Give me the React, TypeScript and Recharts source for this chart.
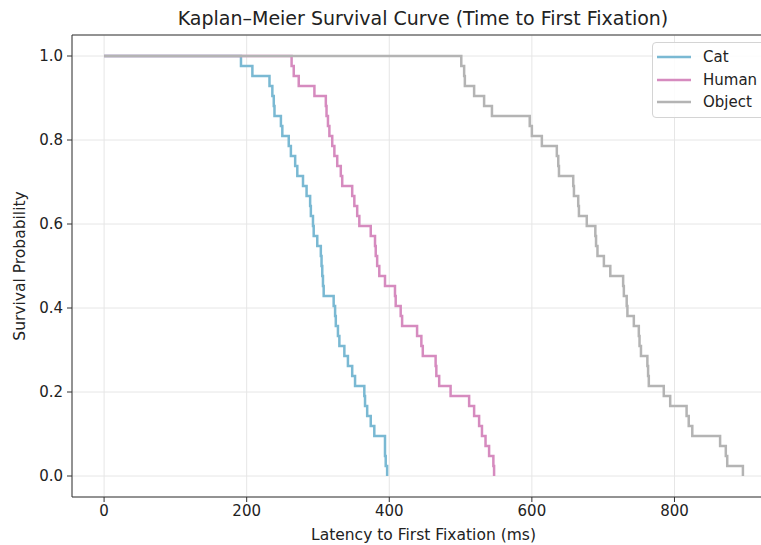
import { CartesianGrid, Legend, Line, LineChart, ReferenceLine, XAxis, YAxis } from "recharts";

// latency to first fixation (ms), one entry per trial, all trials end in a fixation
const catLatency = [
  192, 208, 232, 236, 238, 239, 248, 250, 259, 262, 268, 271, 279, 284, 289, 290, 293, 294, 299, 304, 305,
  306, 307, 308, 322, 324, 325, 328, 330, 337, 342, 348, 352, 365, 366, 369, 374, 379, 394, 394, 395, 397,
];
const humanLatency = [
  263, 266, 273, 295, 311, 312, 314, 316, 320, 323, 327, 332, 334, 348, 351, 355, 358, 374, 380, 381, 383,
  386, 394, 408, 409, 416, 418, 439, 445, 447, 465, 466, 470, 486, 512, 519, 526, 530, 535, 540, 546, 547,
];
const objectLatency = [
  501, 505, 506, 519, 533, 544, 597, 600, 614, 635, 637, 638, 658, 659, 665, 666, 677, 689, 690, 692, 701,
  710, 728, 729, 733, 734, 743, 750, 751, 753, 762, 763, 764, 785, 794, 817, 820, 825, 864, 872, 874, 896,
];

const xTicks = [0, 200, 400, 600, 800];
const yTicks = [0, 0.2, 0.4, 0.6, 0.8, 1.0];

const COLORS = { cat: "#7ab9d3", human: "#d68bbf", object: "#b4b4b4" };
const FONT = "'DejaVu Sans', sans-serif";

type KMPoint = { t: number; s: number };

// product-limit estimate, no censoring
function kaplanMeier(times: number[]): KMPoint[] {
  const sorted = [...times].sort((a, b) => a - b);
  let atRisk = sorted.length;
  let s = 1;
  const out: KMPoint[] = [{ t: 0, s: 1 }];
  for (const t of sorted) {
    s = s * (1 - 1 / atRisk);
    atRisk -= 1;
    out.push({ t, s: Math.max(0, s) });
  }
  return out;
}

const catCurve = kaplanMeier(catLatency);
const humanCurve = kaplanMeier(humanLatency);
const objectCurve = kaplanMeier(objectLatency);

const tick = { fill: "#222", fontSize: 15, fontFamily: FONT };

function KMLegend({ payload }: any) {
  return (
    <div
      style={{
        border: "1px solid #d4d4d4",
        borderRadius: 4,
        background: "rgba(255,255,255,0.85)",
        padding: "3px 0 3px 4px",
        width: 130,
        fontFamily: FONT,
        fontSize: 15,
        color: "#222",
      }}
    >
      {(payload || []).map((p: any) => (
        <div key={p.value} style={{ display: "flex", alignItems: "center", height: 22.5 }}>
          <svg width={34} height={6} style={{ marginRight: 12 }}>
            <line x1={0} y1={3} x2={34} y2={3} stroke={p.color} strokeWidth={2.5} />
          </svg>
          <span>{p.value}</span>
        </div>
      ))}
    </div>
  );
}

export default function App() {
  return (
    <div
      style={{
        position: "fixed",
        left: 0,
        top: 0,
        width: 761,
        height: 545,
        overflow: "hidden",
        background: "#fff",
        fontFamily: FONT,
      }}
    >
      <div
        style={{
          position: "absolute",
          left: 0,
          top: 7,
          width: 846,
          textAlign: "center",
          fontSize: 19,
          lineHeight: "22px",
          color: "#222",
        }}
      >
        Kaplan–Meier Survival Curve (Time to First Fixation)
      </div>
      <LineChart width={775} height={545} margin={{ top: 35, right: 0, bottom: 0, left: 0 }}>
        <CartesianGrid stroke="#e6e6e6" strokeWidth={1} />
        <XAxis
          type="number"
          dataKey="t"
          domain={[-45, 941]}
          ticks={xTicks}
          allowDataOverflow
          height={48}
          tick={tick}
          tickSize={5}
          tickMargin={3}
          axisLine={{ stroke: "#333" }}
          tickLine={{ stroke: "#333" }}
          label={{
            value: "Latency to First Fixation (ms)",
            position: "insideBottom",
            offset: 5,
            style: { fill: "#222", fontSize: 15.5, fontFamily: FONT },
          }}
        />
        <YAxis
          type="number"
          dataKey="s"
          domain={[-0.05, 1.05]}
          ticks={yTicks}
          allowDataOverflow
          width={72}
          tick={tick}
          tickSize={5}
          tickMargin={4}
          tickFormatter={(v: number) => v.toFixed(1)}
          axisLine={{ stroke: "#333" }}
          tickLine={{ stroke: "#333" }}
          label={{
            value: "Survival Probability",
            angle: -90,
            position: "insideLeft",
            offset: 19,
            style: { textAnchor: "middle", fill: "#222", fontSize: 15.5, fontFamily: FONT },
          }}
        />
        <ReferenceLine y={1.05} stroke="#333" strokeWidth={1} />
        <Legend
          layout="horizontal"
          verticalAlign="middle"
          align="center"
          content={<KMLegend />}
          wrapperStyle={{ position: "absolute", left: 652, top: 42, width: 140 }}
        />
        <Line data={catCurve} dataKey="s" name="Cat" type="stepAfter" stroke={COLORS.cat} strokeWidth={2.5} dot={false} isAnimationActive={false} />
        <Line data={humanCurve} dataKey="s" name="Human" type="stepAfter" stroke={COLORS.human} strokeWidth={2.5} dot={false} isAnimationActive={false} />
        <Line data={objectCurve} dataKey="s" name="Object" type="stepAfter" stroke={COLORS.object} strokeWidth={2.5} dot={false} isAnimationActive={false} />
      </LineChart>
    </div>
  );
}
